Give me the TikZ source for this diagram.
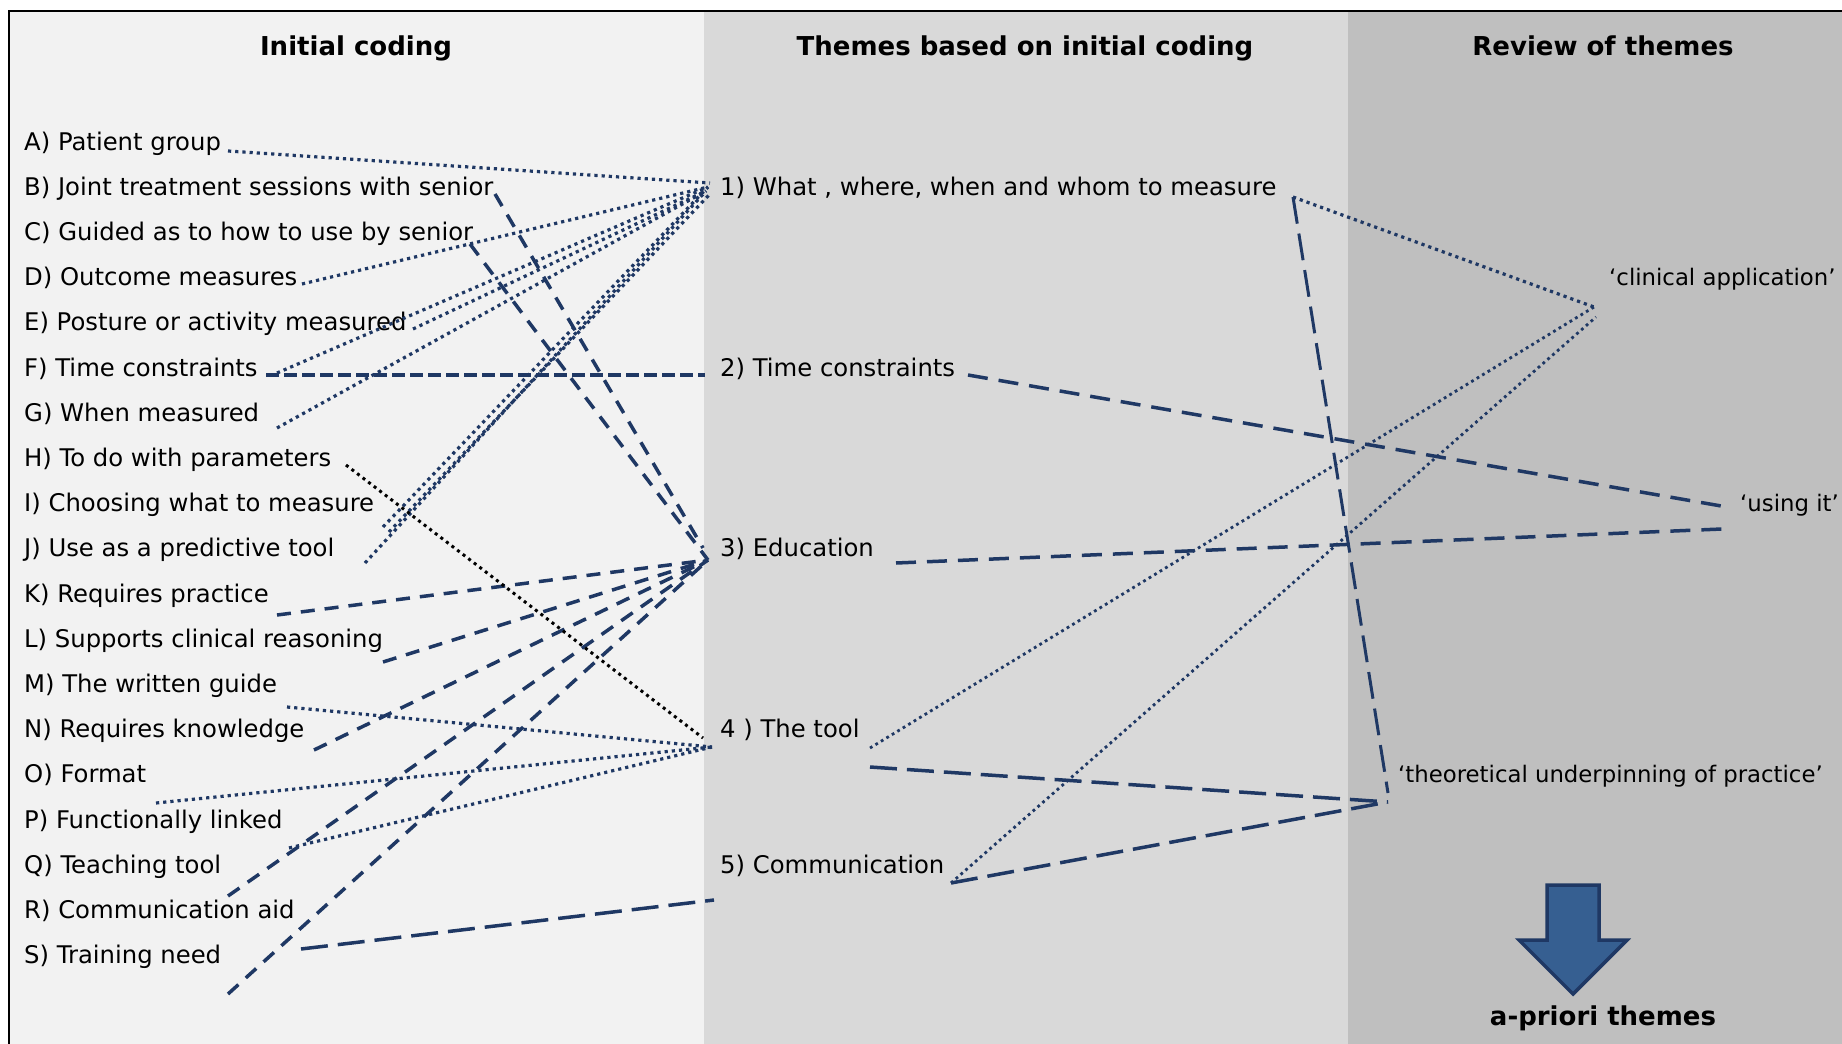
\documentclass[tikz,border=0pt]{standalone}
\usepackage{fontspec}
\setmainfont{DejaVu Sans}
\definecolor{navy}{HTML}{1F3864}
\definecolor{panelA}{HTML}{F2F2F2}
\definecolor{panelB}{HTML}{D9D9D9}
\definecolor{panelC}{HTML}{BFBFBF}
\definecolor{arrowblue}{HTML}{365F91}
\begin{document}
\begin{tikzpicture}[x=1pt,y=-1pt,
  txt/.style={anchor=base west, inner sep=0pt, font=\fontsize{24.3}{29}\selectfont},
  revtxt/.style={anchor=base west, inner sep=0pt, font=\fontsize{22.8}{27}\selectfont},
  hdr/.style={anchor=base, inner sep=0pt, font=\fontsize{26}{31}\selectfont\bfseries},
  lnk/.style={draw=navy, line cap=butt},
  dotl/.style={lnk, line width=3.2pt, dash pattern=on 3.2pt off 4pt},
  thindotl/.style={lnk, line width=2.8pt, dash pattern=on 2.8pt off 3.6pt},
  dashl/.style={lnk, line width=3.5pt, dash pattern=on 14pt off 10pt},
  sysdashl/.style={lnk, line width=3.5pt, dash pattern=on 13pt off 5pt},
  longdashl/.style={lnk, line width=3.5pt, dash pattern=on 27pt off 10pt},
  meddashl/.style={lnk, line width=3.5pt, dash pattern=on 20pt off 11pt},
  blackdot/.style={draw=black, line width=3pt, line cap=butt, dash pattern=on 3pt off 4pt}]
\useasboundingbox (0,0) rectangle (1842,1044);
\clip (0,0) rectangle (1842,1044);
\fill[white] (0,0) rectangle (1842,1044);
\fill[panelA] (9,11) rectangle (704,1050);
\fill[panelB] (704,11) rectangle (1348,1050);
\fill[panelC] (1348,11) rectangle (1850,1050);
\draw[line width=2.5pt] (9,1050) -- (9,11) -- (1850,11);

% headers
\node[hdr] (hA) at (356,55) {Initial coding};
\node[hdr] (hB) at (1025,55) {Themes based on initial coding};
\node[hdr] (hC) at (1603,55) {Review of themes};

% initial codes
\node[txt] (cA) at (24,150.0) {A) Patient group};
\node[txt] (cB) at (24,195.2) {B) Joint treatment sessions with senior};
\node[txt] (cC) at (24,240.4) {C) Guided as to how to use by senior};
\node[txt] (cD) at (24,285.6) {D) Outcome measures};
\node[txt] (cE) at (24,330.8) {E) Posture or activity measured};
\node[txt] (cF) at (24,376.0) {F) Time constraints};
\node[txt] (cG) at (24,421.2) {G) When measured};
\node[txt] (cH) at (24,466.4) {H) To do with parameters};
\node[txt] (cI) at (24,511.6) {I) Choosing what to measure};
\node[txt] (cJ) at (24,556.8) {J) Use as a predictive tool};
\node[txt] (cK) at (24,602.0) {K) Requires practice};
\node[txt] (cL) at (24,647.2) {L) Supports clinical reasoning};
\node[txt] (cM) at (24,692.4) {M) The written guide};
\node[txt] (cN) at (24,737.6) {N) Requires knowledge};
\node[txt] (cO) at (24,782.8) {O) Format};
\node[txt] (cP) at (24,828.0) {P) Functionally linked};
\node[txt] (cQ) at (24,873.2) {Q) Teaching tool};
\node[txt] (cR) at (24,918.4) {R) Communication aid};
\node[txt] (cS) at (24,963.6) {S) Training need};

% themes
\node[txt] (t1) at (720,195.2) {1) What , where, when and whom to measure};
\node[txt] (t2) at (720,376.0) {2) Time constraints};
\node[txt] (t3) at (720,556.8) {3) Education};
\node[txt] (t4) at (720,737.6) {4 ) The tool};
\node[txt] (t5) at (720,873.2) {5) Communication};

% review
\node[revtxt] (r1) at (1609,285.6) {‘clinical application’};
\node[revtxt] (r2) at (1740,511.6) {‘using it’};
\node[revtxt] (r3) at (1398,782.8) {‘theoretical underpinning of practice’};

% arrow and label
\draw[line width=3.5pt, draw=navy, fill=arrowblue, line join=miter]
  (1547,885) -- (1599,885) -- (1599,940) -- (1627,940) -- (1573,994)
  -- (1519,940) -- (1547,940) -- cycle;
\node[hdr] (ap) at (1603,1025) {a-priori themes};

% connector ends
\coordinate (k1) at (708,187);
\coordinate (k1a) at (710,183);
\coordinate (k1b) at (706,191);
\coordinate (k1c) at (709,195);
\coordinate (k2) at (705,375);
\coordinate (k3) at (708,560);
\coordinate (k3a) at (703,548);
\coordinate (k4) at (712,747);
\coordinate (k4h) at (703,738);
\coordinate (k5) at (714,900);
\coordinate (eA) at (228,151);
\coordinate (eB) at (495,194);
\coordinate (eC) at (470,244);
\coordinate (eD) at (302,284);
\coordinate (eE) at (413,329);
\coordinate (eF) at (266,375);
\coordinate (eFd) at (277,373);
\coordinate (eG) at (277,428);
\coordinate (eH) at (346,465);
\coordinate (eI1) at (383,527);
\coordinate (eI2) at (389,532);
\coordinate (eJ) at (365,563);
\coordinate (eK) at (277,615);
\coordinate (eL) at (383,662);
\coordinate (eM) at (287,707);
\coordinate (eN) at (314,750);
\coordinate (eO) at (156,803);
\coordinate (eP) at (289,848);
\coordinate (eQ) at (228,896);
\coordinate (eS) at (301,949);
\coordinate (eS2) at (228,994);
\coordinate (o1) at (1293,197);
\coordinate (o2) at (968,375);
\coordinate (o3) at (896,563);
\coordinate (o4a) at (870,748);
\coordinate (o4b) at (870,767);
\coordinate (o5) at (951,883);
\coordinate (i1a) at (1594,307);
\coordinate (i1b) at (1596,317);
\coordinate (i2a) at (1727,507);
\coordinate (i2b) at (1722,529);
\coordinate (i3) at (1388,802);
\coordinate (i3t) at (1388,793);

% initial codes -> 1)
\draw[dotl] (eA) -- (k1a);
\draw[dotl] (eD) -- (k1);
\draw[dotl] (eE) -- (k1b);
\draw[dotl] (eFd) -- (k1);
\draw[dotl] (eG) -- (k1b);
\draw[dotl] (eI1) -- (k1);
\draw[dotl] (eI2) -- (k1c);
\draw[dotl] (eJ) -- (k1b);
% F -> 2)
\draw[sysdashl] (eF) -- (k2);
% -> 3)
\draw[dashl] (eB) -- (k3a);
\draw[dashl] (eC) -- (k3);
\draw[dashl] (eK) -- (k3);
\draw[dashl] (eL) -- (k3);
\draw[dashl] (eN) -- (k3);
\draw[dashl] (eQ) -- (k3);
\draw[dashl] (eS2) -- (k3);
% -> 4)
\draw[blackdot] (eH) -- (k4h);
\draw[dotl] (eM) -- (k4);
\draw[dotl] (eO) -- (k4);
\draw[dotl] (eP) -- (k4);
% S -> 5)
\draw[longdashl] (eS) -- (k5);

% themes -> review
\draw[dotl] (o1) -- (i1a);
\draw[longdashl, line width=3pt] (o1) -- (i3t);
\draw[meddashl] (o2) -- (i2a);
\draw[meddashl] (o3) -- (i2b);
\draw[thindotl] (o4a) -- (i1a);
\draw[longdashl] (o4b) -- (i3);
\draw[thindotl] (o5) -- (i1b);
\draw[longdashl] (o5) -- (i3);
\end{tikzpicture}
\end{document}
